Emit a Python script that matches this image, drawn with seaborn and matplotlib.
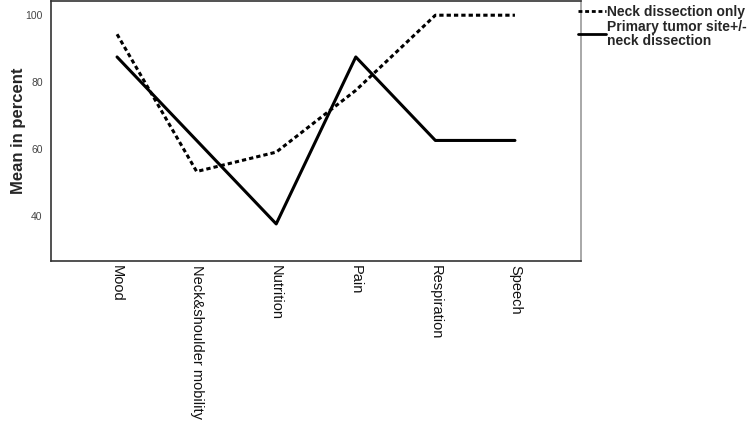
import matplotlib
matplotlib.use("Agg")
import matplotlib.pyplot as plt
import seaborn as sns
import pandas as pd

categories = ["Mood", "Neck&shoulder mobility", "Nutrition", "Pain", "Respiration", "Speech"]
neck_only = [94.3, 53.2, 59.0, 77.5, 100.0, 100.0]
primary_site = [87.5, 62.5, 37.5, 87.5, 62.5, 62.5]
series_names = ["Neck dissection only", "Primary tumor site+/-\nneck dissection"]

df = pd.DataFrame({
    "Domain": categories * 2,
    "Mean": neck_only + primary_site,
    "Group": [series_names[0]] * len(categories) + [series_names[1]] * len(categories),
})

sns.set_theme(style="white")
plt.rcParams["font.family"] = ["Liberation Sans", "DejaVu Sans"]

fig = plt.figure(figsize=(7.5, 4.23), dpi=100)
ax = fig.add_axes([51/750, 1 - 261/423, (581 - 51)/750, 261/423 - 0.002])

sns.lineplot(data=df, x="Domain", y="Mean", hue="Group", style="Group",
             palette=["black", "black"], dashes={series_names[0]: (1.4, 1.0), series_names[1]: ""},
             linewidth=2.2, sort=False, ax=ax, legend=True)

ax.set_xlim(-0.83, 5.83)
ax.set_ylim(26.4, 104.3)
ax.set_yticks([40, 60, 80, 100])
ax.set_yticklabels(["40", "60", "80", "100"], fontsize=7.5, color="#444444")
ax.set_xticks(range(len(categories)))
ax.set_xticklabels(categories, rotation=270, fontsize=10.5, va="top", ha="center", color="#111111")
ax.tick_params(axis="y", length=0, pad=6)
ax.tick_params(axis="x", length=0, pad=3)
ax.set_xlabel("")
ax.set_ylabel("Mean in percent", fontsize=12, fontweight="bold")
ax.yaxis.set_label_coords(-0.047, 0.5)

for s in ax.spines.values():
    s.set_visible(True)
    s.set_linewidth(1.2)
ax.spines["left"].set_color("#333333")
ax.spines["bottom"].set_color("#333333")
ax.spines["top"].set_color("#333333")
ax.spines["right"].set_color("#999999")

leg = ax.legend(loc="upper left", bbox_to_anchor=(0.992, 0.99), frameon=False,
                prop={"size": 10, "weight": "bold"}, handlelength=2.0,
                handletextpad=0.1, labelspacing=0.05, borderaxespad=0.0,
                borderpad=0.1)
for line in leg.get_lines():
    line.set_linewidth(2.0)
for t in leg.get_texts():
    t.set_linespacing(1.0)

fig.savefig("out.png", dpi=100)
